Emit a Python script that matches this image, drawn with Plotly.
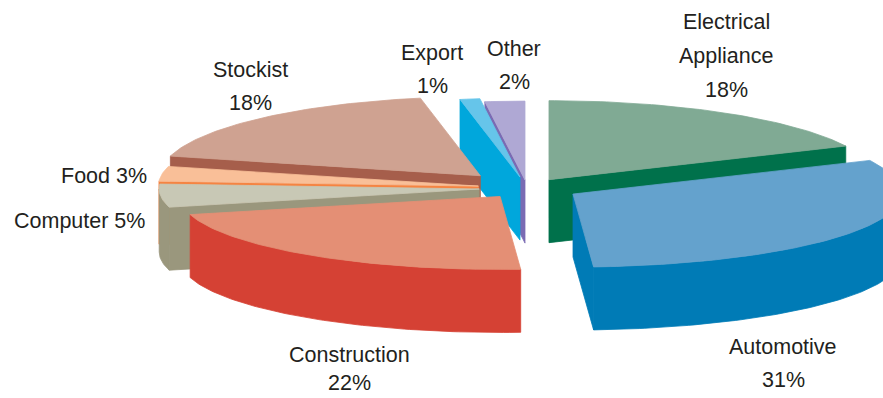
import math
import plotly.graph_objects as go

# Sales by sector, percent of total (clockwise from 12 o'clock)
categories = ["Electrical Appliance", "Automotive", "Construction", "Computer",
              "Food", "Stockist", "Export", "Other"]
shares = [18, 31, 22, 5, 3, 18, 1, 2]

# Label text lines (percent is appended from the shares)
label_lines = [["Electrical", "Appliance"], ["Automotive"], ["Construction"],
               ["Computer"], ["Food"], ["Stockist"], ["Export"], ["Other"]]
label_inline = [False, False, False, True, True, False, False, False]

# ---- styling -------------------------------------------------------------
top_colors = ["#80AA94", "#64A2CD", "#E48F75", "#C8C8B5",
              "#F9BF98", "#CFA291", "#66C5EA", "#AFA8D4"]
side_colors = ["#00714B", "#007BB6", "#D54134", "#9A977D",
               "#F58442", "#A65E4B", "#00A7DC", "#7A6BB3"]
pulls = [0.125, 0.163, 0.143, 0.15, 0.154, 0.213, 0.14, 0.10]

# label anchor (x, y of first line), horizontal anchor, line gap
label_anchor = [(726, 22, "center", 34), (783, 347, "center", 33),
                (349, 355, "center", 28), (146, 221, "right", 0),
                (148, 176, "right", 0), (250, 70, "center", 33),
                (432, 53, "center", 33), (514, 49, "center", 33)]

W, H = 883, 398
BX, BY = 527, 188           # pie centre on the canvas
RX_R, RX_L = 328, 320       # horizontal radius, right / left half
RY_B, RY_F = 79, 73         # vertical radius, back / front half
DEPTH = 63                  # thickness of the disc


def radii(theta):
    s, c = math.sin(theta), math.cos(theta)
    rx = RX_R if s >= 0 else RX_L
    ry = RY_B if c >= 0 else RY_F
    return rx * s, -ry * c


def rim(theta, cx, cy, dz=0.0):
    dx, dy = radii(theta)
    return cx + dx, cy + dy + dz


def arc(a, b, cx, cy, dz=0.0):
    n = max(2, int(abs(math.degrees(b - a))) + 1)
    return [rim(a + (b - a) * k / (n - 1), cx, cy, dz) for k in range(n)]


def add_poly(fig, pts, color):
    xs = [p[0] for p in pts] + [pts[0][0]]
    ys = [p[1] for p in pts] + [pts[0][1]]
    fig.add_trace(go.Scatter(
        x=xs, y=ys, mode="lines", fill="toself", fillcolor=color,
        line=dict(color=color, width=0.8), hoverinfo="skip", showlegend=False))


total = float(sum(shares))
starts, ends = [], []
acc = 0.0
for v in shares:
    starts.append(2 * math.pi * acc / total)
    acc += v
    ends.append(2 * math.pi * acc / total)

# paint from the back of the pie to the front
order = sorted(range(len(shares)),
               key=lambda i: -math.cos((starts[i] + ends[i]) / 2))

fig = go.Figure()
for i in order:
    a, b = starts[i], ends[i]
    mid = (a + b) / 2
    ox, oy = radii(mid)
    cx, cy = BX + pulls[i] * ox, BY + pulls[i] * oy

    # radial cut faces that face the viewer
    for ang, visible in ((a, math.sin(a) < -1e-9), (b, math.sin(b) > 1e-9)):
        if visible:
            px, py = rim(ang, cx, cy)
            add_poly(fig, [(cx, cy), (px, py), (px, py + DEPTH), (cx, cy + DEPTH)],
                     side_colors[i])

    # outer wall on the front half
    lo, hi = max(a, math.pi / 2), min(b, 3 * math.pi / 2)
    if lo < hi:
        upper = arc(lo, hi, cx, cy)
        lower = arc(hi, lo, cx, cy, DEPTH)
        add_poly(fig, upper + lower, side_colors[i])

    # top face
    add_poly(fig, [(cx, cy)] + arc(a, b, cx, cy), top_colors[i])

# labels
font = dict(family="Liberation Sans, Arial, Helvetica, sans-serif", size=21.5,
            color="#231F20")
for i, lines in enumerate(label_lines):
    x0, y0, anchor, gap = label_anchor[i]
    pct = f"{shares[i]}%"
    texts = [f"{lines[0]} {pct}"] if label_inline[i] else lines + [pct]
    for k, t in enumerate(texts):
        fig.add_annotation(x=x0, y=y0 + k * gap, text=t, showarrow=False,
                           xanchor=anchor, yanchor="middle", font=font,
                           borderpad=0)

fig.update_layout(
    width=W, height=H, margin=dict(l=0, r=0, t=0, b=0),
    paper_bgcolor="white", plot_bgcolor="white", showlegend=False,
    xaxis=dict(range=[0, W], visible=False, fixedrange=True),
    yaxis=dict(range=[H, 0], visible=False, fixedrange=True),
)

fig.write_html("out.html")
